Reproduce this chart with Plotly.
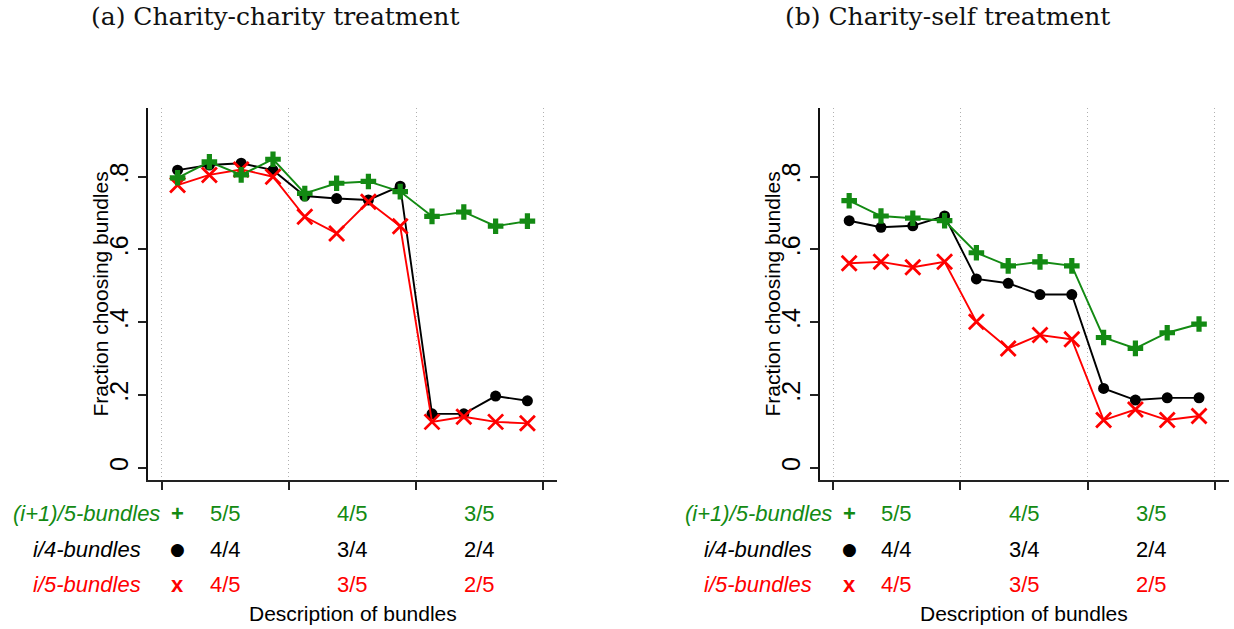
import plotly.graph_objects as go

# Bundle positions along the x axis (four bundles per group, three groups)
bundle_pos = [0.5, 1.5, 2.5, 3.5, 4.5, 5.5, 6.5, 7.5, 8.5, 9.5, 10.5, 11.5]
group_centers = [2, 6, 10]
group_edges = [0, 4, 8, 12]

# Charity-charity treatment: fraction choosing each bundle
cc_plus = [0.797, 0.841, 0.805, 0.848, 0.754, 0.782, 0.787, 0.759, 0.691, 0.703, 0.664, 0.678]
cc_dot = [0.818, 0.832, 0.837, 0.818, 0.747, 0.740, 0.736, 0.774, 0.148, 0.148, 0.197, 0.184]
cc_x = [0.777, 0.805, 0.820, 0.800, 0.690, 0.644, 0.731, 0.664, 0.126, 0.140, 0.126, 0.122]

# Charity-self treatment
cs_plus = [0.734, 0.692, 0.686, 0.679, 0.591, 0.555, 0.566, 0.555, 0.358, 0.328, 0.371, 0.395]
cs_dot = [0.679, 0.661, 0.665, 0.692, 0.519, 0.507, 0.476, 0.476, 0.218, 0.186, 0.192, 0.192]
cs_x = [0.562, 0.566, 0.551, 0.566, 0.401, 0.328, 0.365, 0.353, 0.131, 0.160, 0.131, 0.142]

# Group labels under the x axis
plus_labels = ["5/5", "4/5", "3/5"]
dot_labels = ["4/4", "3/4", "2/4"]
x_labels = ["4/5", "3/5", "2/5"]
row_names = ["(i+1)/5-bundles", "i/4-bundles", "i/5-bundles"]
row_keys = ["+", "●", "x"]

y_ticks = [0, 0.2, 0.4, 0.6, 0.8]
y_ticktext = ["0", ".2", ".4", ".6", ".8"]

panel_titles = ["(a) Charity-charity treatment", "(b) Charity-self treatment"]

GREEN = "#138a13"
RED = "#ff0000"
BLACK = "#000000"
SANS = "Liberation Sans, Arial, sans-serif"

W, H = 1234, 629

fig = go.Figure()

panels = [
    ("x", "y", cc_dot, cc_x, cc_plus),
    ("x2", "y2", cs_dot, cs_x, cs_plus),
]

for xa, ya, dots, xs, pluses in panels:
    fig.add_trace(go.Scatter(
        x=bundle_pos, y=dots, xaxis=xa, yaxis=ya, mode="lines+markers",
        line=dict(color=BLACK, width=1.9),
        marker=dict(symbol="circle", size=11, color=BLACK),
        showlegend=False, cliponaxis=False,
    ))
    fig.add_trace(go.Scatter(
        x=bundle_pos, y=xs, xaxis=xa, yaxis=ya, mode="lines+markers",
        line=dict(color=RED, width=1.9),
        marker=dict(symbol="x-thin", size=15, color=RED,
                    line=dict(color=RED, width=2.8)),
        showlegend=False, cliponaxis=False,
    ))
    fig.add_trace(go.Scatter(
        x=bundle_pos, y=pluses, xaxis=xa, yaxis=ya, mode="lines+markers",
        line=dict(color=GREEN, width=1.9),
        marker=dict(symbol="cross", size=13, color=GREEN),
        showlegend=False, cliponaxis=False,
    ))

x_range = [-0.43, 12.43]
y_range = [-0.0338, 0.9889]
y_domain = [1 - 480 / H, 1 - 108 / H]
x_domains = [[148 / W, 557 / W], [819.6 / W, 1228.6 / W]]


def to_domain(v):
    """Convert an x data value into the axis' domain fraction."""
    return (v - x_range[0]) / (x_range[1] - x_range[0])


common_x = dict(
    range=x_range, tickvals=group_edges, showticklabels=False,
    ticks="outside", ticklen=8, tickwidth=1.5, tickcolor="#222222",
    showline=True, linecolor="#222222", linewidth=1.5,
    showgrid=True, gridcolor="#b0b0b0", gridwidth=1, griddash="1px,3px",
    zeroline=False, fixedrange=True,
)
common_y = dict(
    range=y_range, tickvals=y_ticks, ticktext=y_ticktext,
    tickangle=-90, tickfont=dict(family=SANS, size=25, color=BLACK),
    ticks="outside", ticklen=8, tickwidth=1.5, tickcolor="#222222",
    showline=True, linecolor="#111111", linewidth=1.5,
    showgrid=False, zeroline=False, fixedrange=True,
    ticklabelstandoff=0,
)

fig.update_layout(
    width=W, height=H,
    margin=dict(l=0, r=0, t=0, b=0),
    paper_bgcolor="white", plot_bgcolor="white",
    xaxis=dict(domain=x_domains[0], anchor="y", **common_x),
    yaxis=dict(domain=y_domain, anchor="x", **common_y),
    xaxis2=dict(domain=x_domains[1], anchor="y2", **common_x),
    yaxis2=dict(domain=y_domain, anchor="x2", **common_y),
)

annotations = []
row_y = [1 - 513 / H, 1 - 549 / H, 1 - 584 / H]
row_colors = [GREEN, BLACK, RED]
row_texts = [plus_labels, dot_labels, x_labels]
title_x = [275 / W, 947.5 / W]
ytitle_x = [99.5 / W, 771.5 / W]
row_name_x = -2.36

for p, xa in enumerate(["x", "x2"]):
    xd = xa + " domain"
    # panel title
    annotations.append(dict(
        text=panel_titles[p], xref="paper", yref="paper",
        x=title_x[p], y=1 - 17 / H, xanchor="center", yanchor="middle",
        showarrow=False, font=dict(family="DejaVu Serif, serif", size=25, color="#111111"),
    ))
    # y axis title
    annotations.append(dict(
        text="Fraction choosing bundles", xref="paper", yref="paper",
        x=ytitle_x[p], y=(y_domain[0] + y_domain[1]) / 2, textangle=-90,
        xanchor="center", yanchor="middle", showarrow=False,
        font=dict(family=SANS, size=21, color=BLACK),
    ))
    # x axis title
    annotations.append(dict(
        text="Description of bundles", xref=xd, yref="paper",
        x=to_domain(6), y=1 - 613 / H, xanchor="center", yanchor="middle",
        showarrow=False, font=dict(family=SANS, size=21, color=BLACK),
    ))
    for r in range(3):
        annotations.append(dict(
            text="<i>" + row_names[r] + "</i>", xref=xd, yref="paper",
            x=to_domain(row_name_x), y=row_y[r], xanchor="center", yanchor="middle",
            showarrow=False, font=dict(family=SANS, size=22, color=row_colors[r]),
        ))
        key_font = dict(family=SANS, size=22, color=row_colors[r])
        key_text = "<b>" + row_keys[r] + "</b>"
        if row_keys[r] == "●":
            key_font = dict(family="DejaVu Sans, sans-serif", size=17, color=row_colors[r])
            key_text = row_keys[r]
        annotations.append(dict(
            text=key_text, xref=xd, yref="paper",
            x=to_domain(bundle_pos[0]), y=row_y[r], xanchor="center", yanchor="middle",
            showarrow=False, font=key_font,
        ))
        for g in range(3):
            annotations.append(dict(
                text=row_texts[r][g], xref=xd, yref="paper",
                x=to_domain(group_centers[g]), y=row_y[r], xanchor="center", yanchor="middle",
                showarrow=False, font=dict(family=SANS, size=22, color=row_colors[r]),
            ))

fig.update_layout(annotations=annotations)

fig.write_html("out.html")
